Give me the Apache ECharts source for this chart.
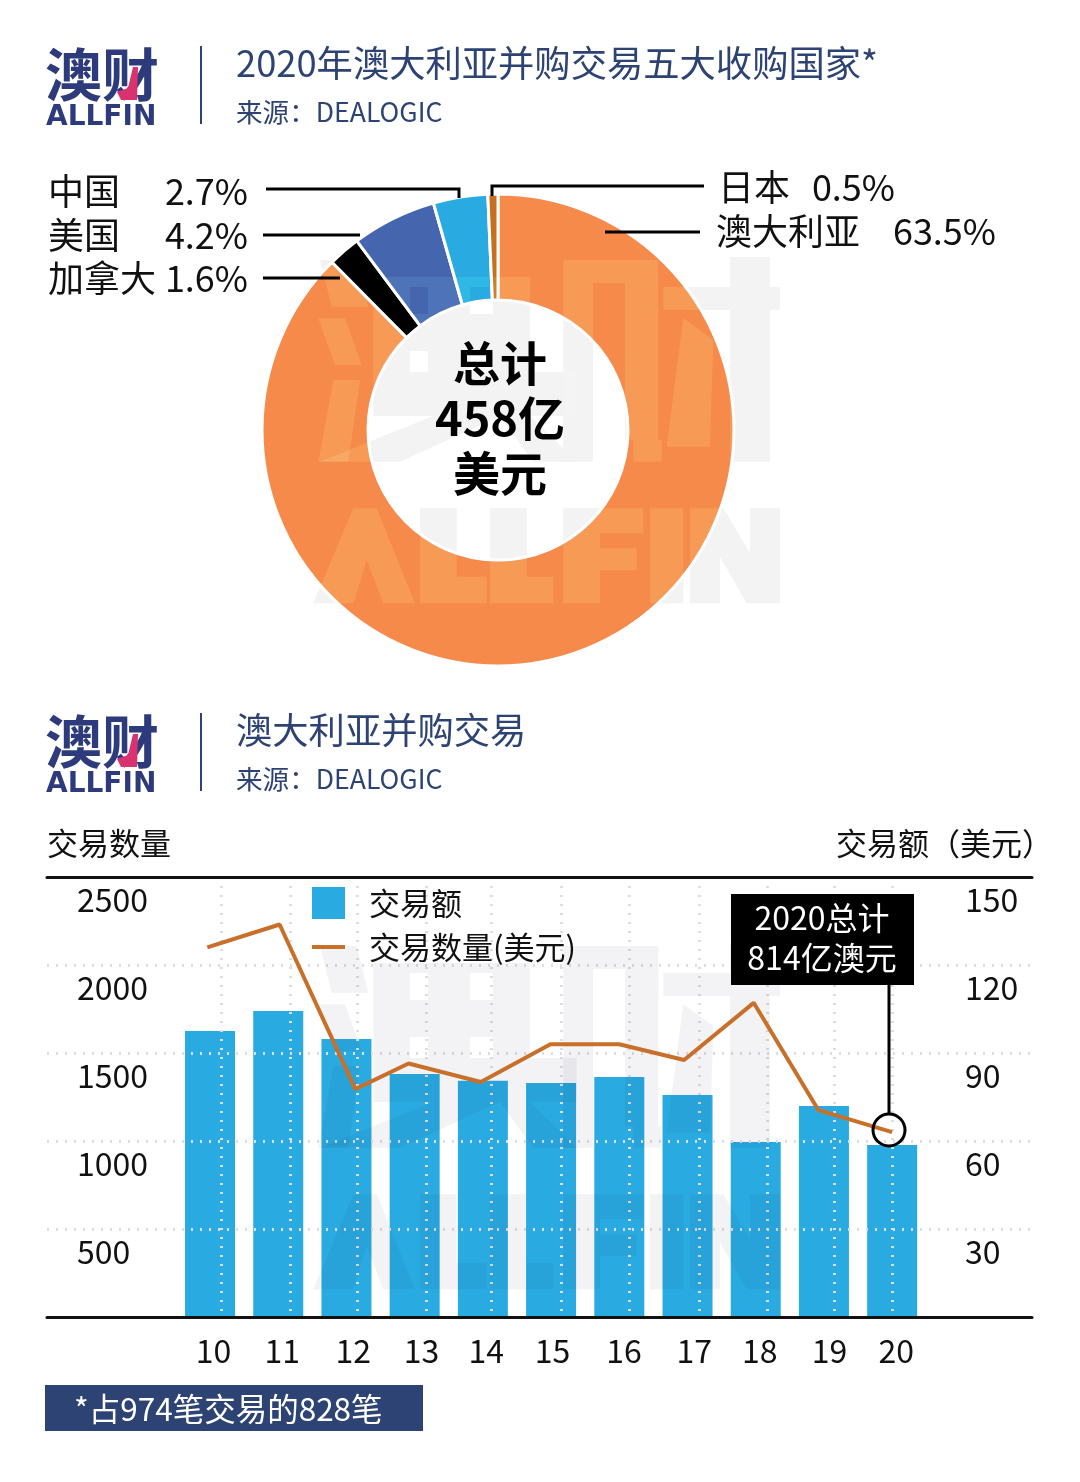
<!DOCTYPE html>
<html>
<head>
<meta charset="utf-8">
<style>html,body{margin:0;padding:0;background:#fff}#main{width:1080px;height:1482px}</style>
<script src="https://cdn.jsdelivr.net/npm/echarts@6/dist/echarts.min.js"></script>
</head>
<body>
<div id="main"></div>
<script>
// 收购国家
var countries = ['澳大利亚', '加拿大', '美国', '中国', '日本'];
var shares = [63.5, 1.6, 4.2, 2.7, 0.5];
var shareColors = ['#f58a4b', '#000000', '#4565ae', '#29abe2', '#c86f1f'];

// 并购交易
var years = [10, 11, 12, 13, 14, 15, 16, 17, 18, 19, 20];
var dealValue = [97.5, 104.3, 94.8, 82.8, 80.5, 79.8, 81.8, 75.7, 59.7, 71.9, 58.6];
var dealCount = [2100, 2230, 1295, 1440, 1335, 1550, 1550, 1460, 1785, 1175, 1050];
var countXs = [9.96, 11.02, 12.13, 12.91, 13.97, 14.99, 16, 16.95, 17.97, 18.92, 20];
var countTicks = [0, 500, 1000, 1500, 2000, 2500];
var gridXs = [10.17, 11.17, 12.16, 13.17, 14.12, 15.15, 16.14, 17.17, 18.17, 19.15, 20];
var labelXs = [10.05, 11.06, 12.1, 13.1, 14.05, 15.02, 16.07, 17.1, 18.06, 19.08, 20.06];

var NAVY = '#2d4373';
var FONT = '"Noto Sans CJK SC", "Noto Sans", sans-serif';

// 水印轮廓
var wmShapes = [
    [[60, 60], [170, 60], [205, 200], [95, 200]],
    [[55, 235], [135, 235], [185, 375], [105, 375]],
    [[100, 420], [180, 420], [145, 665], [55, 665]],
    [[220, 111], [690, 111], [690, 141], [220, 141]],
    [[220, 141], [330, 141], [330, 222], [220, 222]],
    [[384, 141], [510, 141], [510, 222], [384, 222]],
    [[579, 141], [690, 141], [690, 222], [579, 222]],
    [[220, 222], [690, 222], [690, 333], [220, 333]],
    [[220, 333], [330, 333], [330, 396], [220, 396]],
    [[384, 333], [510, 333], [510, 396], [384, 396]],
    [[579, 333], [690, 333], [690, 396], [579, 396]],
    [[220, 396], [830, 396], [830, 528], [220, 528]],
    [[400, 528], [600, 528], [300, 665], [60, 665]],
    [[600, 528], [690, 528], [830, 665], [700, 665]],
    [[790, 60], [1075, 60], [1075, 129], [790, 129]],
    [[790, 129], [879, 129], [879, 665], [790, 665]],
    [[975, 129], [1075, 129], [1075, 600], [975, 600]],
    [[1000, 600], [1085, 600], [1085, 665], [1000, 665]],
    [[1090, 141], [1290, 141], [1290, 210], [1090, 210]],
    [[1410, 141], [1440, 141], [1440, 210], [1410, 210]],
    [[1290, 51], [1410, 51], [1410, 665], [1290, 665]],
    [[1150, 235], [1240, 300], [1230, 620], [1100, 620]],
    [[40, 1090], [160, 805], [230, 805], [345, 1090], [250, 1090], [200, 960], [160, 1090]],
    [[360, 805], [470, 805], [470, 1010], [560, 1010], [560, 1090], [360, 1090]],
    [[570, 805], [680, 805], [680, 1010], [760, 1010], [760, 1090], [570, 1090]],
    [[790, 805], [1030, 805], [1030, 880], [900, 880], [900, 925], [1010, 925], [1010, 990], [900, 990], [900, 1090], [790, 1090]],
    [[1050, 805], [1150, 805], [1150, 1090], [1050, 1090]],
    [[1170, 805], [1270, 805], [1350, 940], [1350, 805], [1440, 805], [1440, 1090], [1340, 1090], [1260, 950], [1260, 1090], [1170, 1090]]
];

function txt(x, y, s, size, color, o) {
    o = o || {};
    return {
        type: 'text', z: o.z || 10, silent: true,
        style: {
            x: x, y: y, text: s, fontSize: size, fontFamily: o.family || FONT,
            fontWeight: o.weight || 'normal', fill: color,
            align: o.align || 'left', verticalAlign: 'middle'
        }
    };
}
function poly(points, color, width) {
    return {
        type: 'polyline', z: 10, silent: true, shape: { points: points },
        style: { stroke: color, lineWidth: width || 3, fill: null }
    };
}
function share(name) {
    return shares[countries.indexOf(name)].toFixed(1) + '%';
}

function header(dy, title) {
    return [
        txt(45, 74 + dy, '澳财', 57, '#2d3a7c', { weight: 'bold' }),
        {
            type: 'polygon', z: 11, silent: true,
            shape: { points: [[133, 67 + dy], [138, 67 + dy], [137, 100 + dy], [121, 100 + dy], [117, 92 + dy], [128, 88 + dy]] },
            style: { fill: '#d8326f' }
        },
        txt(46, 118 + dy, 'ALLFIN', 28, '#2d3a7c', { weight: 'bold', family: '"DejaVu Sans", sans-serif' }),
        poly([[201, 46 + dy], [201, 124 + dy]], NAVY, 2),
        txt(236, 63 + dy, title, 36.3, NAVY),
        txt(236, 112 + dy, '来源：DEALOGIC', 26.6, NAVY)
    ];
}
function watermark(dy, z, fill, blend) {
    return wmShapes.map(function (s) {
        return {
            type: 'polygon', z: z, silent: true,
            shape: { points: s.map(function (p) { return [300 + p[0] / 3, 240 + p[1] / 3 + dy]; }) },
            style: { fill: fill, blend: blend || 'source-over' }
        };
    });
}

var elements = [].concat(
    watermark(0, 0, '#f1f1f3'),
    watermark(0, 6, 'rgba(255,255,255,0.14)', 'overlay'),
    watermark(686, 6, '#f3f3f5', 'multiply'),
    header(0, '2020年澳大利亚并购交易五大收购国家*'),
    header(667, '澳大利亚并购交易'),
    [
        txt(48, 191, '中国', 36, '#111'),
        txt(248, 191, share('中国'), 36, '#111', { align: 'right' }),
        txt(48, 235, '美国', 36, '#111'),
        txt(248, 235, share('美国'), 36, '#111', { align: 'right' }),
        txt(48, 278, '加拿大', 36, '#111'),
        txt(248, 278, share('加拿大'), 36, '#111', { align: 'right' }),
        txt(718, 187, '日本', 36, '#111'),
        txt(895, 187, share('日本'), 36, '#111', { align: 'right' }),
        txt(716, 231, '澳大利亚', 36, '#111'),
        txt(996, 231, share('澳大利亚'), 36, '#111', { align: 'right' }),
        poly([[266, 189], [459, 189], [459, 198]], '#000'),
        poly([[704, 186], [492, 186], [492, 196]], '#000'),
        poly([[700, 232], [605, 232]], '#000'),
        poly([[263, 235], [360, 235]], '#000'),
        poly([[263, 278], [340, 278]], '#000'),
        txt(500, 363, '总计', 47, '#000', { weight: 'bold', align: 'center' }),
        txt(500, 418, '458亿', 47, '#000', { weight: 'bold', align: 'center' }),
        txt(500, 473, '美元', 47, '#000', { weight: 'bold', align: 'center' }),

        txt(47, 843, '交易数量', 31, '#111'),
        txt(836, 843, '交易额（美元）', 31, '#111'),

        { type: 'rect', z: 10, silent: true, shape: { x: 731, y: 894, width: 183, height: 91 }, style: { fill: '#000' } },
        txt(822, 918, '2020总计', 32, '#fff', { align: 'center' }),
        txt(822, 958, '814亿澳元', 32, '#fff', { align: 'center' }),
        poly([[889, 985], [889, 1114]], '#000', 3),
        { type: 'circle', z: 10, silent: true, shape: { cx: 889, cy: 1130, r: 16 }, style: { fill: null, stroke: '#000', lineWidth: 3 } },

        { type: 'rect', z: 10, silent: true, shape: { x: 45, y: 1385, width: 378, height: 46 }, style: { fill: NAVY } },
        txt(74, 1409, '*占974笔交易的828笔', 31.5, '#fff')
    ]
);

var dotted = { show: true, lineStyle: { color: '#dedede', type: [2, 7], width: 3 } };

var myChart = echarts.init(document.getElementById('main'), null, { renderer: 'canvas' });
myChart.setOption({
    animation: false,
    backgroundColor: '#fff',
    textStyle: { fontFamily: FONT },
    graphic: { elements: elements },
    legend: {
        orient: 'vertical', left: 307, top: 882, itemWidth: 33, itemHeight: 32, itemGap: 12, z: 8,
        textStyle: { fontSize: 31, color: '#111', padding: [0, 0, 0, 19] },
        data: [
            { name: '交易额', icon: 'rect' },
            { name: '交易数量(美元)', icon: 'path://M0 0L0 0ZM0 14H33V18H0ZM0 32L0 32Z' }
        ]
    },
    grid: { left: 47, right: 48, top: 877, bottom: 165 },
    xAxis: [{
        type: 'value', min: 7.61, max: 22.05, position: 'bottom', z: 7,
        axisLine: { show: true, onZero: false, lineStyle: { color: '#111', width: 3 } },
        axisTick: { show: false },
        splitLine: { show: false },
        axisLabel: {
            customValues: labelXs,
            formatter: function (v) { return Math.round(v); },
            fontSize: 32, color: '#111', margin: 18
        }
    }, {
        type: 'value', min: 7.61, max: 22.05, position: 'top', z: 3,
        axisLine: { show: true, onZero: false, lineStyle: { color: '#111', width: 3 } },
        axisTick: { show: false, customValues: gridXs },
        axisLabel: { show: false },
        splitLine: dotted
    }],
    yAxis: [{
        type: 'value', min: 0, max: 2500, interval: 500, position: 'left', z: 3,
        axisLine: { show: false }, axisTick: { show: false },
        splitLine: dotted,
        axisLabel: {
            inside: true, margin: 30, align: 'left', verticalAlign: 'top', padding: [7, 0, 0, 0],
            fontSize: 32, color: '#111',
            formatter: function (v) { return countTicks.indexOf(v) > 0 ? v : ''; }
        }
    }, {
        type: 'value', min: 0, max: 150, interval: 30, position: 'right', z: 3,
        axisLine: { show: false }, axisTick: { show: false },
        splitLine: { show: false },
        axisLabel: {
            inside: true, margin: 67, align: 'left', verticalAlign: 'top', padding: [7, 0, 0, 0],
            fontSize: 32, color: '#111',
            formatter: function (v) { return v > 0 ? v : ''; }
        }
    }],
    series: [{
        type: 'pie',
        center: [498, 430],
        radius: [130, 236],
        startAngle: 90,
        clockwise: true,
        silent: true,
        label: { show: false },
        labelLine: { show: false },
        itemStyle: { borderColor: '#fff', borderWidth: 3 },
        data: countries.map(function (c, i) {
            return { name: c, value: shares[i], itemStyle: { color: shareColors[i] } };
        })
    }, {
        name: '交易额',
        type: 'bar',
        xAxisIndex: 0,
        yAxisIndex: 1,
        barWidth: 50,
        itemStyle: { color: '#29abe2' },
        data: years.map(function (y, i) { return [y, dealValue[i]]; })
    }, {
        name: '交易数量(美元)',
        type: 'line',
        xAxisIndex: 0,
        yAxisIndex: 0,
        z: 8,
        symbol: 'none',
        lineStyle: { color: '#c8702a', width: 4 },
        itemStyle: { color: '#c8702a' },
        data: countXs.map(function (x, i) { return [x, dealCount[i]]; })
    }]
});
</script>
</body>
</html>
